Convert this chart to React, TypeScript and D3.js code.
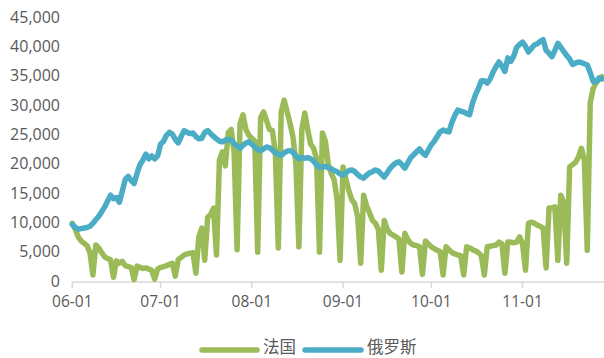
import React from "react";
import * as d3 from "d3";

const START_DATE = "2021-06-01";
const seriesNames = ["法国", "俄罗斯"];
const seriesColors = ["#9BBB59", "#4BACC6"];
const yTicks = [0, 5000, 10000, 15000, 20000, 25000, 30000, 35000, 40000, 45000];
const xTickDates = ["2021-06-01", "2021-07-01", "2021-08-01", "2021-09-01", "2021-10-01", "2021-11-01"];

// 法国 daily values from 06-01
const france = [
  10000, 9000, 7700, 7000, 6600, 6200, 5000, 1200,
  6300, 5800, 5000, 4300, 4000, 3800, 800,
  3600, 3200, 3500, 2800, 2600, 2500, 400,
  2700, 2500, 2300, 2400, 2200, 2000, 500,
  2200, 2500, 2600, 2800, 3000, 3200, 1000,
  3800, 4200, 4600, 4800, 4900, 5000, 1500,
  7700, 9200, 3700, 11000, 11500, 12600, 4600,
  20800, 22200, 19800, 25500, 26000, 22000, 5500,
  27000, 28500, 26000, 25000, 24500, 24000, 5100,
  28000, 29000, 27500, 26000, 25800, 22000, 5800,
  29000, 31000, 29000, 27000, 24700, 20000, 6000,
  26000, 28800, 26000, 23500, 22800, 21000, 5100,
  25400, 24000, 20000, 18500, 17400, 14000, 3700,
  19600, 17500, 15500, 14000, 13300, 11000, 3200,
  14800, 13000, 11800, 10500, 10000, 9000, 2000,
  10500, 9000, 8300, 8000, 7700, 7300, 1700,
  8300, 7200, 6600, 6300, 6200, 6000, 1300,
  7000, 6500, 6000, 5700, 5400, 5200, 1200,
  6000, 5500, 5000, 4800, 4600, 4500, 1200,
  6000, 5800, 5500, 5300, 5000, 4500, 1200,
  6000, 6100, 6200, 6300, 6800, 6500, 1500,
  6800, 6800, 6700, 6800, 7700, 6500, 2000,
  10000, 10200, 10000, 9700, 9500, 9200, 2400,
  12600, 12600, 12800, 3700, 14800, 13600, 3200,
  19600, 20000, 20400, 21300, 22800, 20800, 5400,
  30500, 33000, 34000, 34500, 35000,
];

// 俄罗斯 daily values from 06-01
const russia = [
  9800, 9300, 9000, 9100, 9200, 9300, 9500, 10000,
  10600, 11200, 12000, 12800, 13800, 14800, 14200,
  14400, 13600, 15500, 17500, 18000, 17300, 16800,
  18500, 20000, 20800, 21800, 21000, 21500, 21000,
  21500, 23500, 24000, 25000, 25500, 25200, 24300,
  23700, 24800, 25800, 25500, 25300, 25400, 24800,
  24400, 24500, 25500, 25800, 25300, 24800, 24400,
  24000, 23900, 24200, 24300, 24200, 23600, 23200,
  22800, 23300, 23700, 23900, 23500, 23000, 22600,
  22400, 22700, 23000, 22900, 22500, 22000, 21800,
  21600, 22000, 22300, 22400, 22100, 21500, 21000,
  21200, 21100, 21200, 21000, 20600, 20000, 19500,
  19600, 19700, 19500, 19300, 19000, 18800, 18400,
  18200, 18600, 19000, 19100, 18800, 18300, 17900,
  17700, 18200, 18600, 18800, 19100, 18900, 18400,
  17900, 18600, 19400, 19900, 20300, 20500, 20000,
  19400, 20300, 21200, 21700, 22200, 22700, 22000,
  21600, 22500, 23400, 24000, 24800, 25600, 25900,
  25700, 25600, 27200, 28400, 29300, 29100, 29000,
  28700, 28500, 30500, 31900, 33000, 34300, 34300,
  33900, 34600, 35800, 36700, 37500, 36800, 35900,
  38200, 37600, 38500, 40000, 40500, 40900, 40200,
  39200, 39800, 40400, 40600, 41000, 41300, 39500,
  39000, 38400, 39500, 40700, 40000, 39300, 38600,
  38000, 37100, 37300, 37500, 37400, 37200, 37000,
  35700, 34200, 34100, 34800, 34600,
];

const W = 604;
const H = 358;
const FONT = "'Open Sans', 'Noto Sans CJK SC', sans-serif";
const TEXT = "#595959";

export default function App() {
  const parse = d3.timeParse("%Y-%m-%d");
  const start = parse(START_DATE) as Date;
  const dates = france.map((_, i) => d3.timeDay.offset(start, i));
  const end = dates[dates.length - 1];

  const x = d3.scaleTime().domain([start, end]).range([72.3, 602]);
  const y = d3.scaleLinear().domain([0, 45000]).range([282, 18]);

  const line = d3
    .line<number>()
    .x((_, i) => x(dates[i]))
    .y((d) => y(d));

  const fmtY = d3.format(",");
  const fmtX = d3.timeFormat("%m-%d");
  const series = [france, russia];

  return (
    <svg
      width={W}
      height={H}
      style={{ position: "absolute", left: 0, top: 0, background: "#fff" }}
    >
      {yTicks.map((t) => (
        <text
          key={t}
          x={60}
          y={y(t) - 1}
          dy="0.35em"
          textAnchor="end"
          fontFamily={FONT}
          fontSize={16}
          fill={TEXT}
        >
          {fmtY(t)}
        </text>
      ))}
      <line x1={72.3} x2={604} y1={282} y2={282} stroke="#D9D9D9" strokeWidth={1.5} />
      {xTickDates.map((s) => {
        const d = parse(s) as Date;
        const xp = x(d);
        return (
          <g key={s}>
            <line x1={xp} x2={xp} y1={282} y2={288} stroke="#D9D9D9" strokeWidth={1.5} />
            <text
              x={xp}
              y={307}
              textAnchor="middle"
              fontFamily={FONT}
              fontSize={15.5}
              fill={TEXT}
            >
              {fmtX(d)}
            </text>
          </g>
        );
      })}
      {series.map((s, i) => (
        <path
          key={i}
          d={line(s) || ""}
          fill="none"
          stroke={seriesColors[i]}
          strokeWidth={5.5}
          strokeLinejoin="round"
          strokeLinecap="round"
        />
      ))}
      {/* legend */}
      <g>
        <line x1={202} x2={257} y1={350} y2={350} stroke={seriesColors[0]} strokeWidth={5.5} strokeLinecap="round" />
        <text x={263} y={346} dominantBaseline="central" fontFamily={FONT} fontSize={16.5} fill={TEXT}>
          {seriesNames[0]}
        </text>
        <line x1={305} x2={361} y1={350} y2={350} stroke={seriesColors[1]} strokeWidth={5.5} strokeLinecap="round" />
        <text x={367} y={346} dominantBaseline="central" fontFamily={FONT} fontSize={16.5} fill={TEXT}>
          {seriesNames[1]}
        </text>
      </g>
    </svg>
  );
}
